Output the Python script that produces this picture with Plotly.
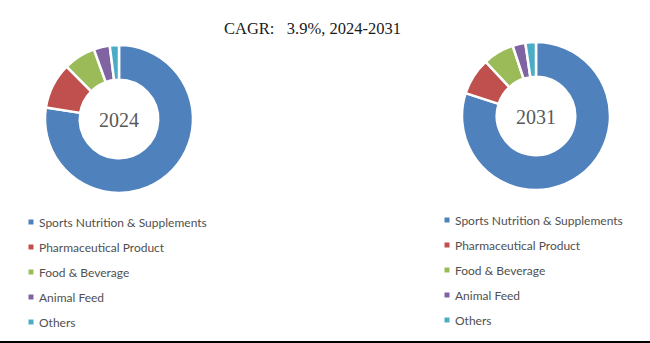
import plotly.graph_objects as go

categories = ["Sports Nutrition & Supplements", "Pharmaceutical Product",
              "Food & Beverage", "Animal Feed", "Others"]
share_2024 = [77.5, 10.0, 7.0, 3.5, 2.0]
share_2031 = [80.0, 8.1, 6.8, 2.8, 2.3]
years = ["2024", "2031"]
colors = ["#4F81BD", "#C0504D", "#9BBB59", "#8064A2", "#4BACC6"]
title_text = "CAGR:\u00a0\u00a0\u00a03.9%, 2024-2031"

W, H = 650, 343
fig = go.Figure()

# donut geometry (pixels)
donuts = [
    dict(vals=share_2024, cx=119, cy=119, r=74, year=years[0], lx=31, ly=222),
    dict(vals=share_2031, cx=536, cy=116, r=74, year=years[1], lx=447, ly=220),
]

for d in donuts:
    cx, cy, r = d["cx"], d["cy"], d["r"]
    fig.add_trace(go.Pie(
        labels=categories, values=d["vals"], hole=0.53, sort=False,
        direction="clockwise", rotation=0,
        marker=dict(colors=colors, line=dict(color="white", width=2.5)),
        textinfo="none", hoverinfo="label+percent", showlegend=False,
        name=d["year"],
        domain=dict(x=[(cx - r) / W, (cx + r) / W],
                    y=[(H - cy - r) / H, (H - cy + r) / H]),
    ))
    fig.add_annotation(x=cx, y=cy + 1, xref="x", yref="y", text=d["year"],
                       showarrow=False,
                       font=dict(family="Liberation Serif", size=20, color="#595959"))
    # legend: squares + labels
    xs = [d["lx"]] * len(categories)
    ys = [d["ly"] + 25 * i for i in range(len(categories))]
    fig.add_trace(go.Scatter(
        x=xs, y=ys, mode="markers", showlegend=False, hoverinfo="skip",
        marker=dict(symbol="square", size=5, color=colors, line=dict(width=0)),
        xaxis="x", yaxis="y",
    ))
    for lab, yy in zip(categories, ys):
        fig.add_annotation(x=d["lx"] + 6, y=yy, xref="x", yref="y", text=lab,
                           showarrow=False, xanchor="left", yanchor="middle",
                           font=dict(family="Lato", size=12, color="#505050"))

fig.add_annotation(x=312, y=28, xref="x", yref="y", text=title_text,
                   showarrow=False,
                   font=dict(family="Liberation Serif", size=16.5, color="#1a1a1a"))

fig.add_shape(type="line", xref="paper", yref="y", x0=0, x1=1, y0=342, y1=342,
              line=dict(color="black", width=2))

fig.update_layout(
    width=W, height=H, margin=dict(l=0, r=0, t=0, b=0),
    paper_bgcolor="white", plot_bgcolor="white",
    xaxis=dict(range=[0, W], visible=False, domain=[0, 1], fixedrange=True),
    yaxis=dict(range=[H, 0], visible=False, domain=[0, 1], fixedrange=True),
    showlegend=False,
)

fig.write_html("out.html")
